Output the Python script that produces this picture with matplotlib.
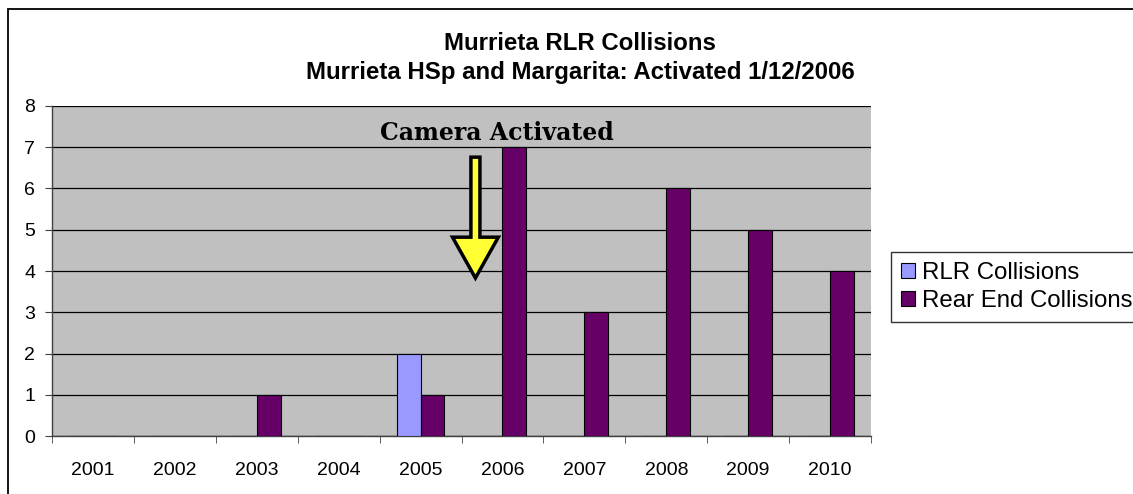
import matplotlib.pyplot as plt
from matplotlib.patches import Rectangle, FancyArrow
import numpy as np

years = ['2001', '2002', '2003', '2004', '2005', '2006', '2007', '2008', '2009', '2010']
rlr = [0, 0, 0, 0, 2, 0, 0, 0, 0, 0]
rear_end = [0, 0, 1, 0, 1, 7, 3, 6, 5, 4]

plt.rcParams['font.family'] = ['Liberation Sans', 'DejaVu Sans']

W, H = 1133, 494
fig = plt.figure(figsize=(W / 100, H / 100), dpi=100)
fig.patch.set_facecolor('white')

# outer chart frame (right and bottom edges fall outside the image)
fig.add_artist(Rectangle((8 / W, -0.5), 1.5, 1.5 - 9 / H, transform=fig.transFigure,
                         fill=False, ec='black', lw=1.3))

ax = fig.add_axes([52 / W, (H - 436) / H, (871 - 52) / W, (436 - 106) / H])
ax.set_facecolor('#C0C0C0')

x = np.arange(len(years))
w = 0.29
ax.bar(x - w / 2, rlr, w, color='#9999FF', edgecolor='black', lw=0.8, zorder=3,
       label='RLR Collisions')
ax.bar(x + w / 2, rear_end, w, color='#660066', edgecolor='black', lw=0.8, zorder=3,
       label='Rear End Collisions')

ax.set_xlim(-0.5, len(years) - 0.5)
ax.set_ylim(0, 8)
ax.set_yticks(range(9))
ax.yaxis.grid(True, color='black', lw=0.9, zorder=1)
ax.set_axisbelow(True)

ax.set_xticks(x)
ax.set_xticklabels(years)
ax.set_xticks(np.arange(-0.5, len(years)), minor=True)
ax.tick_params(axis='x', which='major', length=0, pad=19, labelsize=14)
ax.tick_params(axis='x', which='minor', length=5, color='#404040')
ax.tick_params(axis='y', length=5, labelsize=14, color='#404040', pad=7)

for s in ['top', 'right']:
    ax.spines[s].set_visible(False)
for s in ['left', 'bottom']:
    ax.spines[s].set_color('#404040')
    ax.spines[s].set_linewidth(1.0)

# arrow and annotation
ax.add_patch(FancyArrow(4.67, 6.76, 0, -2.93, width=0.11, head_width=0.56,
                        head_length=0.99, length_includes_head=True,
                        fc='#FFFF33', ec='black', lw=2.5, zorder=5))
ax.text(4.93, 7.35, 'Camera Activated', ha='center', va='center',
        fontsize=17, fontweight='bold', family='DejaVu Serif', zorder=5)

fig.text(580 / W, 1 - 44 / H, 'Murrieta RLR Collisions', ha='center', va='center',
         fontsize=17.3, fontweight='bold')
fig.text(580 / W, 1 - 73 / H, 'Murrieta HSp and Margarita: Activated 1/12/2006',
         ha='center', va='center', fontsize=17.3, fontweight='bold')

fig.legend(loc='upper left', bbox_to_anchor=(891 / W, 1 - 252 / H), frameon=True,
           fancybox=False, edgecolor='black', fontsize=17.3, handlelength=0.6,
           handleheight=0.6, handletextpad=0.3, borderpad=0.4, labelspacing=0.28,
           borderaxespad=0)

fig.savefig('out.png', dpi=100)
